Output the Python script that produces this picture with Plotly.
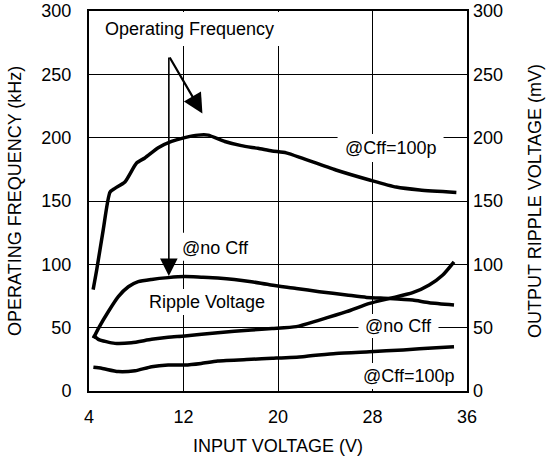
import plotly.graph_objects as go

# ---- data ----
x_ticks = [4, 12, 20, 28, 36]
y_ticks = [0, 50, 100, 150, 200, 250, 300]

freq_cff100_x = [4.35, 4.65, 5.2, 5.78, 6.2, 7.04, 8.03, 8.73, 9.86, 10.99, 12.1, 13.24, 14.08,
                 15.5, 16.9, 18.3, 19.5, 20.7, 22.1, 24.9, 27.75, 30.0, 32.0, 35.1]
freq_cff100_y = [80, 95.5, 127, 157, 160, 165, 180, 184, 192, 197, 200, 202, 202,
                 197, 193.7, 191.6, 189.5, 188, 183.6, 174.5, 166.6, 161, 158.7, 156.8]

freq_nocff_x = [4.37, 4.8, 5.63, 6.48, 7.33, 8.17, 9.3, 10.7, 12.1, 13.5, 14.9, 16.3, 17.75,
                19.4, 21.55, 23.5, 25.8, 27.5, 29.45, 31.4, 32.8, 34.9]
freq_nocff_y = [41.6, 49.5, 62.6, 74.5, 82.3, 86.3, 88.1, 89.5, 90.3, 89.8, 89.2, 88.1, 86.3,
                83.7, 81, 78.4, 75.8, 73.9, 73.1, 71.8, 69.7, 67.9]

ripple_nocff_x = [4.37, 4.79, 6.2, 7.6, 9.3, 10.7, 12.1, 14.9, 17.75, 19.5, 21.55, 23.5,
                  25.8, 27.75, 29.45, 31.4, 32.8, 33.95, 34.9]
ripple_nocff_y = [44.2, 40.8, 37.6, 38.1, 40.8, 42.4, 43.4, 46, 48.2, 49.3, 50.8, 56,
                  62.6, 69.2, 73.1, 77.6, 83.7, 91.6, 102]

ripple_cff100_x = [4.37, 5.07, 6.48, 7.9, 9.3, 10.7, 12.1, 13.5, 14.9, 17.75, 19.5, 22.1,
                   24.9, 27.75, 30.6, 33.4, 34.9]
ripple_cff100_y = [18.7, 17.9, 15.3, 16, 19.2, 20.5, 20.5, 21.8, 23.7, 25, 25.8, 27.1,
                   29.7, 31, 32.4, 34.2, 35]

FONT = "Arial, Liberation Sans, Helvetica, sans-serif"
LW = 3.5

fig = go.Figure()
for xs, ys, ax in [(freq_cff100_x, freq_cff100_y, "y"),
                   (freq_nocff_x, freq_nocff_y, "y"),
                   (ripple_nocff_x, ripple_nocff_y, "y2"),
                   (ripple_cff100_x, ripple_cff100_y, "y2")]:
    fig.add_trace(go.Scatter(x=xs, y=ys, yaxis=ax, mode="lines",
                             line=dict(color="black", width=LW, shape="spline", smoothing=0.6),
                             showlegend=False, hoverinfo="skip"))

# white boxes behind labels (between gridlines and traces)
boxes = [  # (x, y, half-width px, half-height px)
    (12.54, 285.8, 95, 17),
    (29.53, 191.8, 53, 14),
    (14.74, 113.9, 38, 14),
    (13.97, 70.3, 64, 13),
    (30.2, 51.3, 40, 12),
    (31.13, 11.8, 52, 13),
]
for bx, by, hw, hh in boxes:
    fig.add_shape(type="rect", xref="x", yref="y", xsizemode="pixel", ysizemode="pixel",
                  xanchor=bx, yanchor=by, x0=-hw, x1=hw, y0=-hh, y1=hh,
                  fillcolor="white", line=dict(width=0), layer="between")

labels = [
    ("Operating Frequency", 12.54, 285.8),
    ("@Cff=100p", 29.53, 191.8),
    ("@no Cff", 14.74, 112.9),
    ("Ripple Voltage", 13.97, 70.3),
    ("@no Cff", 30.2, 51.3),
    ("@Cff=100p", 31.13, 11.8),
]
for t, lx, ly in labels:
    fig.add_annotation(x=lx, y=ly, xref="x", yref="y", text=t, showarrow=False,
                       font=dict(family=FONT, size=18, color="black"))

# arrows
fig.add_annotation(x=10.76, y=90.8, ax=10.76, ay=264.5, xref="x", yref="y", axref="x", ayref="y",
                   text="", showarrow=True, arrowhead=2, arrowsize=2.2, arrowwidth=1.6,
                   arrowcolor="black", standoff=0)
fig.add_annotation(x=13.6, y=219, ax=10.76, ay=264.5, xref="x", yref="y", axref="x", ayref="y",
                   text="", showarrow=True, arrowhead=2, arrowsize=1.8, arrowwidth=2.2,
                   arrowcolor="black", standoff=0)

# axis titles
fig.add_annotation(xref="paper", yref="paper", x=0, y=0.5, xshift=-74, xanchor="center",
                   yanchor="middle", text="OPERATING FREQUENCY (kHz)", textangle=-90,
                   showarrow=False, font=dict(family=FONT, size=18, color="black"))
fig.add_annotation(xref="paper", yref="paper", x=1, y=0.5, xshift=68, xanchor="center",
                   yanchor="middle", text="OUTPUT RIPPLE VOLTAGE (mV)", textangle=-90,
                   showarrow=False, font=dict(family=FONT, size=18, color="black"))
fig.add_annotation(xref="paper", yref="paper", x=0.5, y=0, yshift=-55, xanchor="center",
                   yanchor="middle", text="INPUT VOLTAGE (V)", showarrow=False,
                   font=dict(family=FONT, size=18, color="black"))

axis_common = dict(showline=True, linecolor="black", linewidth=2, mirror=True,
                   showgrid=True, gridcolor="black", gridwidth=1, zeroline=False,
                   automargin=False,
                   ticks="", tickfont=dict(family=FONT, size=18, color="black"))

fig.update_layout(
    width=548, height=459,
    margin=dict(l=89, r=81, t=11, b=68, pad=0, autoexpand=False),
    paper_bgcolor="white", plot_bgcolor="white",
    xaxis=dict(range=[4, 36], tickvals=x_ticks, ticklabelstandoff=8, **axis_common),
    yaxis=dict(range=[0, 300], tickvals=y_ticks, ticklabelstandoff=12, **axis_common),
    yaxis2=dict(range=[0, 300], tickvals=y_ticks, overlaying="y", side="right",
                showgrid=False, showline=False, zeroline=False, ticks="",
                automargin=False, ticklabelstandoff=5,
                tickfont=dict(family=FONT, size=18, color="black")),
)

fig.write_html("out.html", config={"displayModeBar": False},
               post_script="document.body.style.margin='0';document.body.style.padding='0';")
